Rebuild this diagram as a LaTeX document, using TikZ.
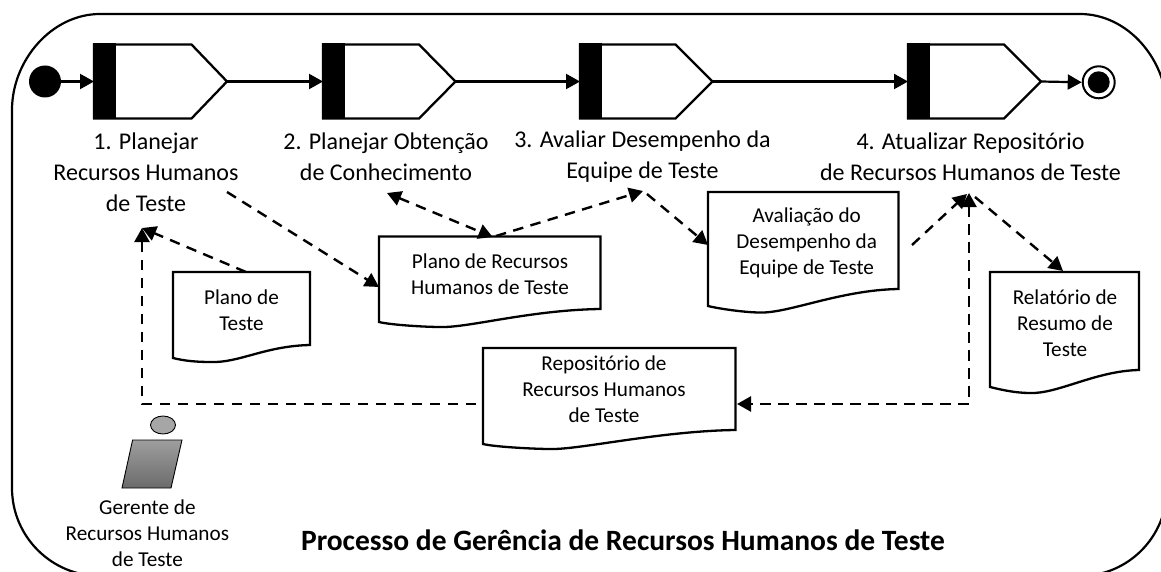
\documentclass[tikz,border=0pt]{standalone}
\usepackage{fontspec}
\setmainfont{Carlito}
\usetikzlibrary{arrows.meta,shapes.geometric}
\tikzset{
  x=1pt,y=-1pt,
  >={Triangle[length=14pt,width=15pt]},
  outline/.style={draw=black,line width=2.3pt,line join=miter},
  flow/.style={draw=black,line width=2.2pt,->},
  dep/.style={draw=black,line width=2.4pt,dash pattern=on 10.5pt off 7.5pt,->},
  depboth/.style={draw=black,line width=2.4pt,dash pattern=on 10.5pt off 7.5pt,<->},
  steplabel/.style={align=center,inner sep=0pt,font=\fontsize{24}{31}\selectfont},
  doclabel/.style={align=center,inner sep=0pt,font=\fontsize{21.2}{26}\selectfont},
}
\newcommand{\stepshape}[5]{% name, left, bar right, shoulder, tip
  \draw[outline,fill=white] (#2,44.5) -- (#4,44.5) -- (#5,81.5) -- (#4,118.5) -- (#2,118.5) -- cycle;
  \fill[black] (#2-1,43.5) rectangle (#3,119.5);
  \coordinate (#1in) at (#2,81.5);
  \coordinate (#1out) at (#5,81.5);
}
\newcommand{\docshape}[8]{% left,right,top,rightbottom,leftbottom,troughx,troughy,ctrl
  \draw[outline,fill=white] (#1,#3) -- (#2,#3) -- (#2,#4)
    .. controls (#8,#4+1) and (#6+28,#7+1) .. (#6,#7)
    .. controls (#6-14,#7) and (#1+12,#5+3) .. (#1,#5) -- cycle;
}
\begin{document}
\begin{tikzpicture}
\useasboundingbox (0,0) rectangle (1161,572);
\clip (0,0) rectangle (1161,572);
% frame
\draw[line width=2.2pt] (100,14) -- (1080,14)
  .. controls (1128,14) and (1167,60) .. (1167,110)
  -- (1167,488)
  .. controls (1167,537) and (1128,576) .. (1080,576)
  -- (100,576)
  .. controls (52,576) and (12,537) .. (12,488)
  -- (12,110)
  .. controls (12,60) and (52,14) .. (100,14) -- cycle;
% events
\node[circle,fill=black,minimum size=32pt,inner sep=0pt] (start) at (45,81.5) {};
\node[circle,draw=black,line width=2pt,fill=white,minimum size=32pt,inner sep=0pt] (finish) at (1098.7,82.3) {};
\node[circle,fill=black,minimum size=22pt,inner sep=0pt] (finishdot) at (1098.7,82.3) {};
% activities
\stepshape{a}{94}{116}{191.5}{227}
\stepshape{b}{323}{344.5}{419}{455.5}
\stepshape{c}{580}{601.5}{675.5}{712.6}
\stepshape{d}{908}{930}{1004}{1041}
\draw[flow] (start) -- (ain);
\draw[flow] (aout) -- (bin);
\draw[flow] (bout) -- (cin);
\draw[flow] (cout) -- (din);
\draw[flow] (dout) -- (finish.west);
% step labels
\node[steplabel] (la) at (146,172) {1. Planejar\\Recursos Humanos\\de Teste};
\node[steplabel] (lb) at (386,156.5) {2. Planejar Obtenção\\de Conhecimento};
\node[steplabel] (lc) at (642.5,156.5) {3. Avaliar Desempenho da\\Equipe de Teste};
\fill[white] (555,182) rectangle (730,192);
\node[steplabel] (ld) at (970.5,156.5) {4. Atualizar Repositório\\de Recursos Humanos de Teste};
% documents
\docshape{379}{600.5}{236.5}{309}{322}{440}{327}{530}
\node[doclabel] (plano) at (490,274.5) {Plano de Recursos\\Humanos de Teste};
\docshape{483}{735.5}{348}{430}{444}{550}{449}{660}
\node[doclabel] (repo) at (604,389) {Repositório de\\Recursos Humanos\\de Teste};
\docshape{173}{310}{272}{345}{358}{211}{362}{265}
\node[doclabel] (pt) at (241.5,310) {Plano de\\Teste};
\docshape{708}{898.5}{192}{289}{306}{760}{312.5}{840}
\node[doclabel] (av) at (806.7,243) {Avaliação do\\Desempenho da\\Equipe de Teste};
\docshape{990}{1139}{272}{370}{387}{1030}{393}{1095}
\node[doclabel] (rel) at (1065,323) {Relatório de\\Resumo de\\Teste};
% connector ends
\coordinate (a1) at (227,192);
\coordinate (a2) at (379,287);
\coordinate (p1) at (246,272);
\coordinate (p2) at (142,228);
\coordinate (r1) at (476,404);
\coordinate (r2) at (142,404);
\coordinate (b1) at (387,193);
\coordinate (b2) at (492.6,237);
\coordinate (c0) at (496,236);
\coordinate (c1) at (643,191);
\coordinate (c2) at (647,194);
\coordinate (c3) at (708,245);
\coordinate (v1) at (912,245);
\coordinate (v2) at (967,194);
\coordinate (w1) at (969,193);
\coordinate (w2) at (969,404);
\coordinate (w3) at (737,404);
\coordinate (e1) at (975,197);
\coordinate (e2) at (1063,271);
\draw[dep] (a1) -- (a2);
\draw[dep] (p1) -- (p2);
\draw[dep] (r1) -- (r2) -- (p2);
\draw[depboth] (b1) -- (b2);
\draw[dep] (c0) -- (c1);
\draw[dep] (c2) -- (c3);
\draw[dep] (v1) -- (v2);
\draw[depboth] (w1) -- (w2) -- (w3);
\draw[dep] (e1) -- (e2);
% actor
\node[ellipse,draw=black,line width=.9pt,fill=black!35,minimum width=25pt,minimum height=18pt,inner sep=0pt] (head) at (163,425) {};
\draw[line width=.9pt,draw=black,top color=black!38,bottom color=black!58] (132.6,440) -- (182,440) -- (171,488) -- (122,488) -- cycle;
\node[doclabel] (gerente) at (147.4,533) {Gerente de\\Recursos Humanos\\de Teste};
\node[inner sep=0pt,font=\fontsize{29.5}{34}\selectfont\bfseries] (title) at (623,540) {Processo de Gerência de Recursos Humanos de Teste};
\end{tikzpicture}
\end{document}
